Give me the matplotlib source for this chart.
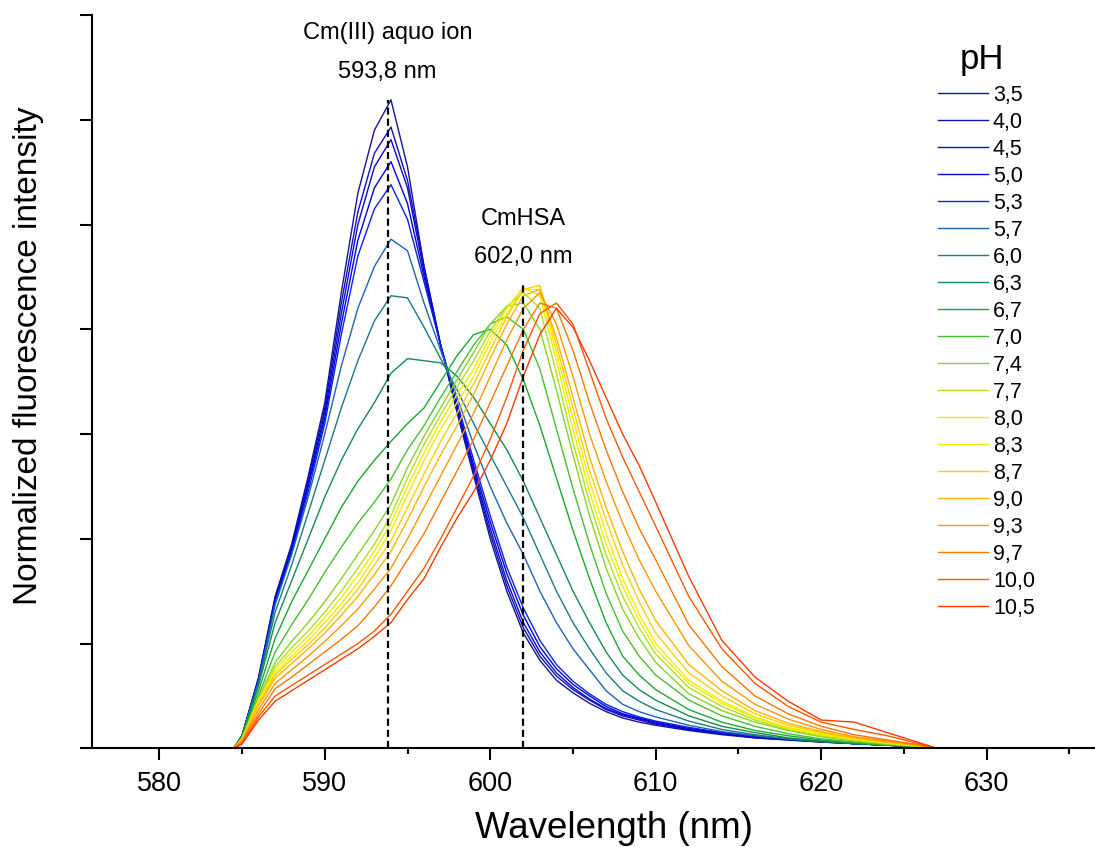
import matplotlib.pyplot as plt
from matplotlib.ticker import MultipleLocator
import numpy as np

plt.rcParams['font.family'] = ['Liberation Sans', 'DejaVu Sans']

wl = [576, 584.5, 585, 586, 587, 588, 589, 590, 591, 592, 593, 594, 595, 596, 597, 598,
      599, 600, 601, 602, 603, 604, 605, 606, 607, 608, 609, 610,
      612, 614, 616, 618, 620, 622, 624, 626, 627, 636.5]

ph35 = [0, 0, 0.12, 0.68, 1.45, 1.95, 2.6, 3.3, 4.35, 5.3, 5.9, 6.19, 5.55, 4.6, 3.85, 3.2,
        2.6, 2.0, 1.5, 1.1, 0.84, 0.65, 0.53, 0.43, 0.35, 0.29, 0.25, 0.22,
        0.17, 0.13, 0.1, 0.08, 0.06, 0.045, 0.03, 0.015, 0, 0]
ph40 = [0, 0, 0.12, 0.67, 1.44, 1.93, 2.57, 3.25, 4.25, 5.12, 5.68, 5.93, 5.42, 4.6, 3.85, 3.22,
        2.63, 2.05, 1.55, 1.15, 0.88, 0.69, 0.56, 0.46, 0.37, 0.31, 0.27, 0.23,
        0.18, 0.14, 0.1, 0.08, 0.06, 0.045, 0.03, 0.015, 0, 0]
ph45 = [0, 0, 0.12, 0.66, 1.42, 1.9, 2.53, 3.2, 4.15, 5.0, 5.55, 5.81, 5.35, 4.55, 3.85, 3.25,
        2.66, 2.1, 1.6, 1.2, 0.92, 0.72, 0.58, 0.47, 0.38, 0.32, 0.28, 0.24,
        0.18, 0.14, 0.11, 0.085, 0.065, 0.045, 0.03, 0.015, 0, 0]
ph50 = [0, 0, 0.12, 0.66, 1.41, 1.88, 2.5, 3.15, 4.05, 4.85, 5.35, 5.6, 5.2, 4.5, 3.85, 3.27,
        2.7, 2.16, 1.67, 1.27, 0.97, 0.76, 0.61, 0.5, 0.4, 0.33, 0.29, 0.25,
        0.19, 0.15, 0.11, 0.085, 0.065, 0.045, 0.03, 0.015, 0, 0]
ph53 = [0, 0, 0.12, 0.65, 1.4, 1.86, 2.45, 3.1, 3.95, 4.7, 5.15, 5.38, 5.05, 4.45, 3.85, 3.3,
        2.75, 2.22, 1.73, 1.34, 1.03, 0.8, 0.64, 0.52, 0.42, 0.35, 0.3, 0.26,
        0.2, 0.15, 0.115, 0.09, 0.065, 0.045, 0.03, 0.015, 0, 0]
ph57 = [0, 0, 0.12, 0.64, 1.37, 1.85, 2.4, 3.0, 3.65, 4.2, 4.6, 4.86, 4.75, 4.25, 3.8, 3.35,
        2.9, 2.5, 2.15, 1.85, 1.5, 1.2, 0.95, 0.75, 0.55, 0.42, 0.35, 0.3,
        0.22, 0.16, 0.12, 0.09, 0.065, 0.045, 0.03, 0.015, 0, 0]
ph60 = [0, 0, 0.12, 0.62, 1.3, 1.75, 2.25, 2.75, 3.25, 3.7, 4.08, 4.32, 4.3, 4.02, 3.72, 3.42,
        3.1, 2.8, 2.5, 2.2, 1.85, 1.5, 1.2, 0.95, 0.72, 0.55, 0.45, 0.37,
        0.26, 0.18, 0.13, 0.09, 0.065, 0.045, 0.03, 0.015, 0, 0]
ph63 = [0, 0, 0.12, 0.6, 1.2, 1.6, 2.0, 2.4, 2.75, 3.05, 3.3, 3.58, 3.72, 3.7, 3.68, 3.55,
        3.35, 3.1, 2.85, 2.55, 2.2, 1.85, 1.5, 1.2, 0.92, 0.7, 0.56, 0.46,
        0.31, 0.21, 0.15, 0.1, 0.07, 0.05, 0.03, 0.015, 0, 0]
ph67 = [0, 0, 0.11, 0.55, 1.05, 1.4, 1.7, 2.0, 2.3, 2.55, 2.75, 2.93, 3.1, 3.25, 3.5, 3.75,
        3.95, 4.0, 3.85, 3.52, 3.08, 2.58, 2.08, 1.62, 1.2, 0.88, 0.7, 0.56,
        0.37, 0.25, 0.17, 0.12, 0.08, 0.05, 0.03, 0.015, 0, 0]
ph70 = [0, 0, 0.1, 0.5, 0.92, 1.18, 1.42, 1.68, 1.92, 2.15, 2.35, 2.57, 2.85, 3.08, 3.35, 3.6,
        3.85, 4.05, 4.12, 4.0, 3.62, 3.05, 2.48, 1.95, 1.48, 1.12, 0.88, 0.7,
        0.46, 0.31, 0.21, 0.14, 0.09, 0.06, 0.035, 0.015, 0, 0]
ph74 = [0, 0, 0.1, 0.48, 0.82, 1.02, 1.2, 1.4, 1.62, 1.85, 2.08, 2.33, 2.68, 2.98, 3.25, 3.52,
        3.78, 4.05, 4.22, 4.25, 4.0, 3.42, 2.8, 2.22, 1.72, 1.33, 1.05, 0.82,
        0.52, 0.36, 0.25, 0.17, 0.11, 0.07, 0.04, 0.02, 0, 0]
ph77 = [0, 0, 0.09, 0.47, 0.78, 0.96, 1.12, 1.3, 1.5, 1.72, 1.95, 2.22, 2.58, 2.9, 3.18, 3.45,
        3.7, 3.98, 4.22, 4.35, 4.2, 3.58, 2.92, 2.35, 1.85, 1.45, 1.15, 0.9,
        0.58, 0.4, 0.27, 0.18, 0.12, 0.08, 0.045, 0.02, 0, 0]
ph80 = [0, 0, 0.09, 0.46, 0.75, 0.92, 1.07, 1.25, 1.44, 1.65, 1.88, 2.15, 2.5, 2.82, 3.12, 3.38,
        3.62, 3.93, 4.2, 4.4, 4.32, 3.7, 3.05, 2.45, 1.95, 1.55, 1.22, 0.95,
        0.62, 0.43, 0.29, 0.19, 0.13, 0.085, 0.05, 0.02, 0, 0]
ph83 = [0, 0, 0.08, 0.45, 0.72, 0.88, 1.03, 1.2, 1.38, 1.58, 1.82, 2.08, 2.42, 2.75, 3.05, 3.3,
        3.55, 3.88, 4.15, 4.38, 4.38, 3.78, 3.15, 2.55, 2.05, 1.62, 1.28, 1.0,
        0.65, 0.45, 0.3, 0.2, 0.14, 0.09, 0.055, 0.025, 0, 0]
ph87 = [0, 0, 0.08, 0.43, 0.7, 0.85, 0.99, 1.15, 1.33, 1.52, 1.75, 1.98, 2.3, 2.62, 2.93, 3.2,
        3.48, 3.8, 4.12, 4.38, 4.42, 3.85, 3.25, 2.65, 2.18, 1.75, 1.4, 1.1,
        0.72, 0.5, 0.33, 0.22, 0.15, 0.095, 0.055, 0.025, 0, 0]
ph90 = [0, 0, 0.08, 0.41, 0.67, 0.81, 0.95, 1.1, 1.27, 1.45, 1.66, 1.88, 2.18, 2.5, 2.8, 3.08,
        3.38, 3.72, 4.05, 4.32, 4.38, 3.92, 3.35, 2.78, 2.3, 1.88, 1.52, 1.22,
        0.8, 0.55, 0.36, 0.24, 0.16, 0.1, 0.06, 0.025, 0, 0]
ph93 = [0, 0, 0.07, 0.37, 0.62, 0.75, 0.88, 1.02, 1.17, 1.33, 1.52, 1.72, 2.0, 2.3, 2.6, 2.9,
        3.2, 3.55, 3.9, 4.2, 4.35, 4.05, 3.55, 3.0, 2.55, 2.15, 1.8, 1.5,
        0.98, 0.64, 0.42, 0.28, 0.18, 0.11, 0.07, 0.03, 0, 0]
ph97 = [0, 0, 0.06, 0.33, 0.57, 0.68, 0.8, 0.92, 1.04, 1.17, 1.35, 1.55, 1.8, 2.05, 2.35, 2.65,
        2.95, 3.3, 3.65, 4.0, 4.25, 4.2, 3.8, 3.3, 2.85, 2.45, 2.1, 1.8,
        1.18, 0.78, 0.5, 0.33, 0.21, 0.13, 0.08, 0.03, 0, 0]
ph100 = [0, 0, 0.05, 0.3, 0.5, 0.6, 0.7, 0.8, 0.9, 1.0, 1.12, 1.28, 1.5, 1.72, 2.0, 2.3,
         2.6, 2.95, 3.35, 3.8, 4.15, 4.25, 4.05, 3.6, 3.15, 2.78, 2.45, 2.12,
         1.45, 0.95, 0.62, 0.4, 0.25, 0.18, 0.12, 0.04, 0, 0]
ph105 = [0, 0, 0.04, 0.27, 0.45, 0.55, 0.65, 0.75, 0.85, 0.95, 1.07, 1.2, 1.42, 1.62, 1.92, 2.2,
         2.45, 2.75, 3.1, 3.55, 3.95, 4.2, 4.02, 3.7, 3.35, 3.0, 2.7, 2.35,
         1.64, 1.03, 0.68, 0.45, 0.27, 0.25, 0.15, 0.05, 0, 0]

ph_labels = ['3,5', '4,0', '4,5', '5,0', '5,3', '5,7', '6,0', '6,3', '6,7', '7,0',
             '7,4', '7,7', '8,0', '8,3', '8,7', '9,0', '9,3', '9,7', '10,0', '10,5']
colors = ['#14149a', '#1010bc', '#0a0ad0', '#0000e0', '#0a22e6', '#2060c0', '#1a7a82',
          '#128c52', '#1aa832', '#44c030', '#84d622', '#b0e020', '#e6f000', '#ffe600',
          '#ffd000', '#ffb400', '#ff9600', '#ff7600', '#ff5800', '#ff3a00']
spectra = [ph35, ph40, ph45, ph50, ph53, ph57, ph60, ph63, ph67, ph70,
           ph74, ph77, ph80, ph83, ph87, ph90, ph93, ph97, ph100, ph105]

peak_wl = [593.8, 602.0]
peak_species = ['Cm(III) aquo ion', 'CmHSA']
peak_text = ['593,8 nm', '602,0 nm']
peak_ref = [ph35, ph87]

fig = plt.figure(figsize=(10.95, 8.47), dpi=100)
ax = fig.add_axes([0.0843, 0.1165, 0.9157, 0.8658])

for y, lab, c in zip(spectra, ph_labels, colors):
    ax.plot(wl, y, color=c, lw=1.0, label=lab)

for w, ref, sp, txt in zip(peak_wl, peak_ref, peak_species, peak_text):
    top = max(ref)
    ax.plot([w, w], [0, top], color='black', lw=1.6, dashes=(3.2, 1.8))
    ax.annotate(txt, (w, top), xytext=(0, 20), textcoords='offset points',
                ha='center', va='center', fontsize=17)
    ax.annotate(sp, (w, top), xytext=(0, 48), textcoords='offset points',
                ha='center', va='center', fontsize=17)

ax.set_xlim(575.95, 636.55)
ax.set_ylim(0, 7)
ax.set_yticks(range(8))
ax.set_yticklabels([])
ax.xaxis.set_major_locator(MultipleLocator(10))
ax.xaxis.set_minor_locator(MultipleLocator(5))
ax.tick_params(which='major', direction='out', length=8.5, width=1.5, labelsize=19.5, pad=7.5)
ax.tick_params(which='minor', direction='out', length=4, width=1.5)
for s in ['top', 'right']:
    ax.spines[s].set_visible(False)
for s in ['left', 'bottom']:
    ax.spines[s].set_linewidth(1.5)

ax.set_xlabel('Wavelength (nm)', fontsize=26.5, va='center')
ax.xaxis.set_label_coords(0.52, -0.1087)
ax.set_ylabel('Normalized fluorescence intensity', fontsize=24, va='center')
ax.yaxis.set_label_coords(-0.0641, 0.536)

ax.legend(frameon=False, loc='upper left',
          bbox_to_anchor=(938 / 1095, 1 - 84.5 / 847), bbox_transform=fig.transFigure,
          fontsize=15.5, handlelength=2.3, handletextpad=0.25,
          labelspacing=0.28, borderpad=0, borderaxespad=0)
fig.text(982 / 1095, 1 - 60 / 847, 'pH', fontsize=25, ha='center', va='center')

plt.savefig('out.png', dpi=100)
